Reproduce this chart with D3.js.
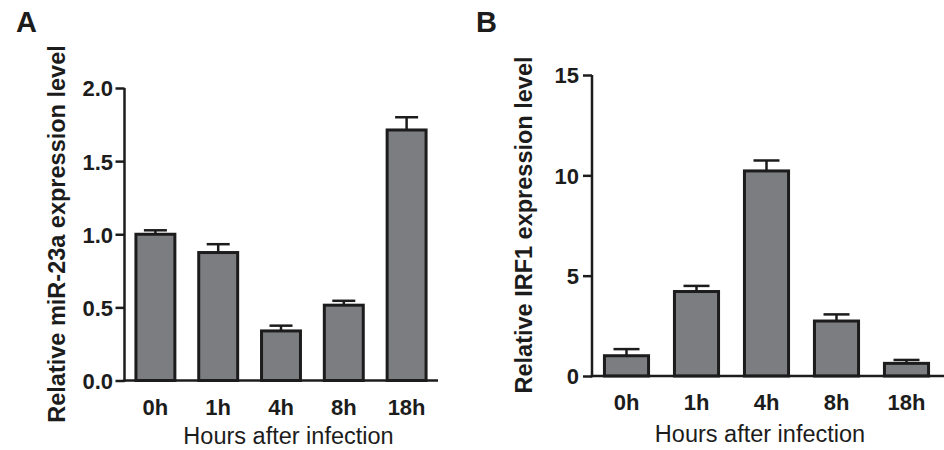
<!DOCTYPE html>
<html>
<head>
<meta charset="utf-8">
<script src="https://cdn.jsdelivr.net/npm/d3@7/dist/d3.min.js"></script>
<style>
  html, body { margin: 0; padding: 0; background: #fff; }
  svg { display: block; font-family: "Liberation Sans", Arial, Helvetica, sans-serif; }
</style>
</head>
<body>
<svg id="chart" width="944" height="450"></svg>
<script>
// ---- Data ----
const categories = ["0h", "1h", "4h", "8h", "18h"];
const mirValues = [1.0, 0.875, 0.339, 0.515, 1.713];
const mirErrors = [0.027, 0.057, 0.036, 0.03, 0.087];
const irfValues = [1.01, 4.21, 10.22, 2.74, 0.63];
const irfErrors = [0.33, 0.28, 0.52, 0.33, 0.17];
const mirTicks = [0, 0.5, 1.0, 1.5, 2.0];
const irfTicks = [0, 5, 10, 15];
const mirTickLabels = ["0.0", "0.5", "1.0", "1.5", "2.0"];
const irfTickLabels = ["0", "5", "10", "15"];

const svg = d3.select("#chart");
const ink = "#1c1c1c";
const barFill = "#7c7d81";

const panels = [
  {
    letter: "A", letterX: 16, letterY: 32,
    values: mirValues, errors: mirErrors, ticks: mirTicks, tickLabels: mirTickLabels,
    yDomain: [0, 2], yRange: [380.5, 88],
    xRange: [124, 438], axisEnd: 438, pad: 0.38, capHalf: 11.5,
    yTitle: "Relative miR-23a expression level", yTitleX: 65, yTitleY: 234,
    xTitleX: 288.5, xTitleY: 444, catY: 415, tickLabelX: 113
  },
  {
    letter: "B", letterX: 476, letterY: 32,
    values: irfValues, errors: irfErrors, ticks: irfTicks, tickLabels: irfTickLabels,
    yDomain: [0, 15], yRange: [376, 75],
    xRange: [591.5, 941.5], axisEnd: 944, pad: 0.37, capHalf: 13,
    yTitle: "Relative IRF1 expression level", yTitleX: 531.5, yTitleY: 225,
    xTitleX: 760, xTitleY: 442, catY: 410, tickLabelX: 579
  }
];

panels.forEach(p => {
  const g = svg.append("g");
  const y = d3.scaleLinear().domain(p.yDomain).range(p.yRange);
  const x = d3.scaleBand().domain(categories).range(p.xRange)
    .paddingInner(p.pad).paddingOuter(p.pad / 2);
  const axisX = p.xRange[0] + 0.5;

  // bars
  g.selectAll("rect.bar").data(categories).enter().append("rect")
    .attr("class", "bar")
    .attr("x", d => x(d))
    .attr("width", x.bandwidth())
    .attr("y", (d, i) => y(p.values[i]))
    .attr("height", (d, i) => y(0) - y(p.values[i]))
    .attr("fill", barFill)
    .attr("stroke", ink)
    .attr("stroke-width", 3);

  // error bars (upper only)
  const eb = g.selectAll("g.err").data(categories).enter().append("g").attr("class", "err");
  eb.append("line")
    .attr("x1", d => x(d) + x.bandwidth() / 2)
    .attr("x2", d => x(d) + x.bandwidth() / 2)
    .attr("y1", (d, i) => y(p.values[i]))
    .attr("y2", (d, i) => y(p.values[i] + p.errors[i]))
    .attr("stroke", ink).attr("stroke-width", 2.5);
  eb.append("line")
    .attr("x1", d => x(d) + x.bandwidth() / 2 - p.capHalf)
    .attr("x2", d => x(d) + x.bandwidth() / 2 + p.capHalf)
    .attr("y1", (d, i) => y(p.values[i] + p.errors[i]))
    .attr("y2", (d, i) => y(p.values[i] + p.errors[i]))
    .attr("stroke", ink).attr("stroke-width", 2.5);

  // y axis
  const yAxis = d3.axisLeft(y).tickValues(p.ticks)
    .tickFormat((d, i) => p.tickLabels[i]).tickSize(9).tickPadding(2).tickSizeOuter(0);
  const ya = g.append("g").attr("transform", `translate(${axisX},0)`).call(yAxis);
  ya.select(".domain").attr("stroke", ink).attr("stroke-width", 2.5)
    .attr("d", `M0,${y(p.yDomain[0]) + 1.25}V${y(p.yDomain[1])}`);
  ya.selectAll(".tick line").attr("stroke", ink).attr("stroke-width", 2.5);
  ya.selectAll(".tick text")
    .attr("fill", ink).attr("font-size", 22).attr("font-weight", "bold")
    .attr("font-family", "'Liberation Sans', Arial, sans-serif")
    .attr("x", p.tickLabelX - axisX).attr("dy", "0.36em");

  // x axis line
  g.append("line")
    .attr("x1", axisX - 1.25).attr("x2", p.axisEnd)
    .attr("y1", y(0)).attr("y2", y(0))
    .attr("stroke", ink).attr("stroke-width", 2.5);

  // category labels
  g.selectAll("text.cat").data(categories).enter().append("text")
    .attr("class", "cat")
    .attr("x", d => x(d) + x.bandwidth() / 2)
    .attr("y", p.catY)
    .attr("text-anchor", "middle")
    .attr("font-size", 22).attr("font-weight", "bold").attr("fill", ink)
    .text(d => d);

  // titles
  g.append("text")
    .attr("transform", `translate(${p.yTitleX},${p.yTitleY}) rotate(-90)`)
    .attr("text-anchor", "middle")
    .attr("font-size", 23.5).attr("font-weight", "bold").attr("fill", ink)
    .text(p.yTitle);
  g.append("text")
    .attr("x", p.xTitleX).attr("y", p.xTitleY)
    .attr("text-anchor", "middle")
    .attr("font-size", 23.5).attr("fill", ink)
    .text("Hours after infection");
  g.append("text")
    .attr("x", p.letterX).attr("y", p.letterY)
    .attr("font-size", 29).attr("font-weight", "bold").attr("fill", ink)
    .text(p.letter);
});
</script>
</body>
</html>
